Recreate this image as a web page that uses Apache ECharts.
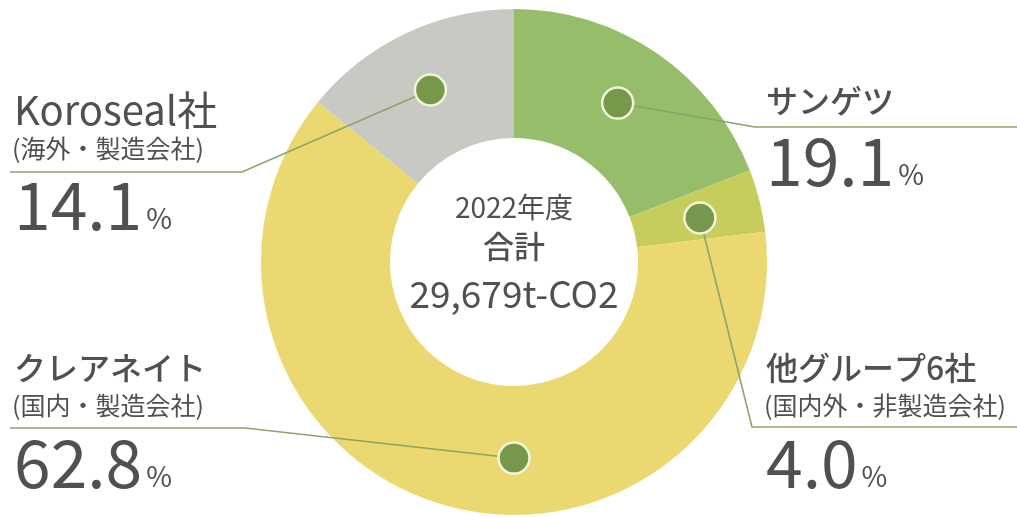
<!DOCTYPE html>
<html>
<head>
<meta charset="utf-8">
<script src="https://cdn.jsdelivr.net/npm/echarts@6/dist/echarts.min.js"></script>
<style>
html,body{margin:0;padding:0;background:#fff;}
#c{width:1017px;height:517px;}
</style>
</head>
<body>
<div id="c"></div>
<script>
// ---- data ----
const categories = ['サンゲツ', '他グループ6社', 'クレアネイト', 'Koroseal社'];
const subLabels = ['', '(国内外・非製造会社)', '(国内・製造会社)', '(海外・製造会社)'];
const shares = [19.1, 4.0, 62.8, 14.1];
const sliceColors = ['#95bd6a', '#c6cd5c', '#ecd870', '#c9c9c4'];
const markerAngle = [9.2, 21.3, 50.0, 92.8];   // % of the circle, clockwise from top
const markerRadius = [75, 75.5, 77.5, 75.6];   // % of outer radius
const centerLines = ['2022年度', '合計', '29,679t-CO2'];

// ---- layout ----
const CX = 514, CY = 262, R = 253, RIN = 124;
const FONT = '"Noto Sans CJK JP","Noto Sans",sans-serif';
const TXT = '#505050';
const LINE = '#8aa567';

const labelPos = [
  {x: 766, nameY: 101, subY: null, numY: 161, pctY: 174, elbow: [755, 127], end: [1017, 127]},
  {x: 766, nameY: 368, subY: 405, numY: 463, pctY: 476, elbow: [752, 427], end: [1017, 427]},
  {x: 14,  nameY: 368, subY: 405, numY: 463, pctY: 476, elbow: [245, 428], end: [10, 428]},
  {x: 14,  nameY: 110, subY: 148, numY: 205, pctY: 218, elbow: [242, 172], end: [10, 172]}
];

const chart = echarts.init(document.getElementById('c'), null, {renderer: 'canvas'});

chart.setOption({
  animation: false,
  backgroundColor: '#fff',
  polar: {center: [CX, CY], radius: R},
  angleAxis: {type: 'value', min: 0, max: 100, startAngle: 90, clockwise: true, show: false},
  radiusAxis: {type: 'value', min: 0, max: 100, show: false},
  series: [
    {
      type: 'pie',
      center: [CX, CY],
      radius: [RIN, R],
      startAngle: 90,
      clockwise: true,
      silent: true,
      label: {show: false},
      labelLine: {show: false},
      itemStyle: {borderWidth: 0},
      data: categories.map((n, i) => ({name: n, value: shares[i], itemStyle: {color: sliceColors[i]}})),
      z: 2
    },
    {
      type: 'scatter',
      coordinateSystem: 'polar',
      symbol: 'circle',
      symbolSize: 31,
      silent: true,
      z: 10,
      itemStyle: {color: '#77984a', borderColor: '#f1f5da', borderWidth: 2.5, opacity: 1},
      data: markerAngle.map((a, i) => [markerRadius[i], a])
    }
  ]
});

function dotPixel(i) {
  let p = null;
  try { p = chart.convertToPixel({seriesIndex: 1}, [markerRadius[i], markerAngle[i]]); } catch (e) { p = null; }
  if (!p || isNaN(p[0])) {
    const ang = (90 - markerAngle[i] * 3.6) * Math.PI / 180;
    const r = markerRadius[i] / 100 * R;
    p = [CX + r * Math.cos(ang), CY - r * Math.sin(ang)];
  }
  return p;
}

const ctx = document.createElement('canvas').getContext('2d');
function textWidth(str, size, weight) {
  ctx.font = (weight || 400) + ' ' + size + 'px ' + FONT;
  return ctx.measureText(str).width;
}

const elements = [];
labelPos.forEach((L, i) => {
  const d = dotPixel(i);
  elements.push({
    type: 'polyline', z: 3, silent: true,
    shape: {points: [d, L.elbow, L.end]},
    style: {stroke: LINE, lineWidth: 1.6, fill: null}
  });
  const nameSize = i === 3 ? 40 : 32;
  const nameWeight = i === 3 ? 400 : 500;
  elements.push({
    type: 'text', z: 5, silent: true, x: L.x, y: L.nameY,
    style: {text: categories[i], font: nameWeight + ' ' + nameSize + 'px ' + FONT, fill: TXT, textAlign: 'left', textVerticalAlign: 'middle'}
  });
  if (subLabels[i]) {
    elements.push({
      type: 'text', z: 5, silent: true, x: L.x - 2, y: L.subY,
      style: {text: subLabels[i], font: '400 25px ' + FONT, fill: TXT, textAlign: 'left', textVerticalAlign: 'middle'}
    });
  }
  const numStr = shares[i].toFixed(1);
  const numSize = 66;
  const w = textWidth(numStr, numSize, 400);
  elements.push({
    type: 'text', z: 5, silent: true, x: L.x, y: L.numY,
    style: {text: numStr, font: '400 ' + numSize + 'px ' + FONT, fill: TXT, textAlign: 'left', textVerticalAlign: 'middle'}
  });
  elements.push({
    type: 'text', z: 5, silent: true, x: L.x + w + 4, y: L.pctY,
    style: {text: '%', font: '400 28px ' + FONT, fill: TXT, textAlign: 'left', textVerticalAlign: 'middle'}
  });
});

elements.push({
  type: 'text', z: 5, silent: true, x: CX, y: 207,
  style: {text: centerLines[0], font: '400 28px ' + FONT, fill: TXT, textAlign: 'center', textVerticalAlign: 'middle'}
});
elements.push({
  type: 'text', z: 5, silent: true, x: CX, y: 246,
  style: {text: centerLines[1], font: '500 31px ' + FONT, fill: TXT, textAlign: 'center', textVerticalAlign: 'middle'}
});
elements.push({
  type: 'text', z: 5, silent: true, x: CX, y: 294,
  style: {text: centerLines[2], font: '400 37px ' + FONT, fill: TXT, textAlign: 'center', textVerticalAlign: 'middle'}
});

chart.setOption({graphic: {elements: elements}});
</script>
</body>
</html>
